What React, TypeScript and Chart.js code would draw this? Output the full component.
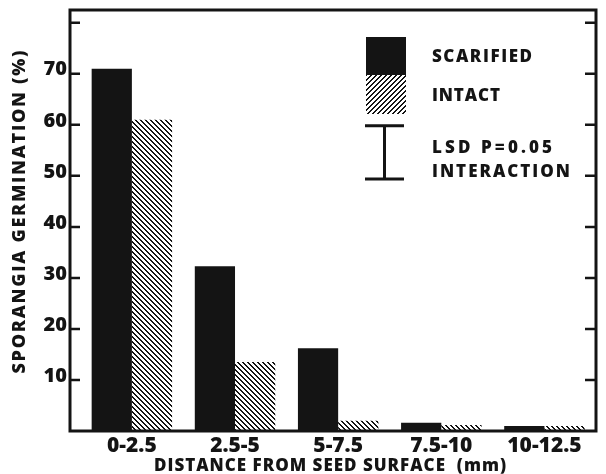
import React, { useEffect, useRef } from 'react';
import { Chart, registerables } from 'chart.js';

Chart.register(...registerables);

const categories = ['0-2.5', '2.5-5', '5-7.5', '7.5-10', '10-12.5'];
const scarified = [71, 32.3, 16.2, 1.6, 1.0];
const intact = [61, 13.5, 2.0, 1.2, 1.0];
const yTicks = [10, 20, 30, 40, 50, 60, 70, 80];
const yTickLabels = ['10', '20', '30', '40', '50', '60', '70', ''];
const seriesNames = ['SCARIFIED', 'INTACT'];
const lsdLabels = ['LSD P=0.05', 'INTERACTION'];
const lsdTop = 59.8;
const lsdValue = 10.4;
const xTitle = 'DISTANCE FROM SEED SURFACE  (mm)';
const yTitle = 'SPORANGIA GERMINATION (%)';

const FONT = '"Open Sans", "DejaVu Sans", sans-serif';
const WEIGHT = '800';
const INK = '#141414';

function makeHatch(ctx: CanvasRenderingContext2D, dir: 1 | -1): CanvasPattern {
  const s = 5;
  const c = document.createElement('canvas');
  c.width = s;
  c.height = s;
  const g = c.getContext('2d')!;
  g.fillStyle = '#ffffff';
  g.fillRect(0, 0, s, s);
  g.fillStyle = INK;
  for (let y = 0; y < s; y++) {
    for (let x = 0; x < s; x++) {
      const raw = dir === 1 ? x - y : x + y;
      const k = ((raw % s) + s) % s;
      if (k < 2) g.fillRect(x, y, 1, 1);
    }
  }
  return ctx.createPattern(c, 'repeat')!;
}

function fitText(
  ctx: CanvasRenderingContext2D,
  text: string,
  x: number,
  y: number,
  width: number,
  size: number,
  align: 'left' | 'center'
) {
  ctx.save();
  ctx.font = `${WEIGHT} ${size}px ${FONT}`;
  (ctx as any).letterSpacing = '0px';
  const w = ctx.measureText(text).width;
  const n = text.length;
  const sp = n > 1 ? (width - w) / (n - 1) : 0;
  (ctx as any).letterSpacing = `${sp}px`;
  ctx.textBaseline = 'middle';
  ctx.textAlign = 'left';
  ctx.fillStyle = INK;
  const sx = align === 'center' ? x - width / 2 : x;
  ctx.fillText(text, sx, y);
  (ctx as any).letterSpacing = '0px';
  ctx.restore();
}

export default function App() {
  const ref = useRef<HTMLCanvasElement | null>(null);

  useEffect(() => {
    const canvas = ref.current;
    if (!canvas) return;
    const ctx0 = canvas.getContext('2d')!;
    const barHatch = makeHatch(ctx0, 1);
    const legendHatch = makeHatch(ctx0, -1);

    const decor = {
      id: 'decor',
      afterDraw(chart: any) {
        const { ctx, chartArea } = chart;
        const ys = chart.scales.y;
        const { left, right, top, bottom } = chartArea;
        ctx.save();
        ctx.strokeStyle = INK;
        ctx.lineWidth = 3;
        ctx.lineCap = 'butt';
        ctx.strokeRect(left, top, right - left, bottom - top);
        ctx.lineWidth = 2.5;
        yTicks.forEach((v) => {
          const py = ys.getPixelForValue(v);
          ctx.beginPath();
          ctx.moveTo(left, py);
          ctx.lineTo(left + 10, py);
          ctx.moveTo(right, py);
          ctx.lineTo(right - 11, py);
          ctx.stroke();
        });

        ctx.fillStyle = INK;
        ctx.fillRect(366, 37, 40, 38);
        ctx.fillStyle = legendHatch;
        ctx.fillRect(366, 75, 40, 39);

        const t = ys.getPixelForValue(lsdTop);
        const b = ys.getPixelForValue(lsdTop - lsdValue);
        ctx.strokeStyle = INK;
        ctx.lineWidth = 3;
        ctx.beginPath();
        ctx.moveTo(365, t);
        ctx.lineTo(404, t);
        ctx.moveTo(384.5, t);
        ctx.lineTo(384.5, b);
        ctx.moveTo(365, b);
        ctx.lineTo(404, b);
        ctx.stroke();
        ctx.restore();

        fitText(ctx, seriesNames[0], 432, 57, 100, 17, 'left');
        fitText(ctx, seriesNames[1], 432, 96, 68, 17, 'left');
        fitText(ctx, lsdLabels[0], 432, 148, 120, 17, 'left');
        fitText(ctx, lsdLabels[1], 432, 172, 138, 17, 'left');

        fitText(ctx, xTitle, 330, 466, 352, 17, 'center');

        ctx.save();
        ctx.translate(20, 212);
        ctx.rotate(-Math.PI / 2);
        fitText(ctx, yTitle, 0, 0, 323, 18, 'center');
        ctx.restore();
      },
    };

    const chart = new Chart(canvas, {
      type: 'bar',
      data: {
        datasets: [
          {
            label: seriesNames[0],
            data: scarified.map((v, i) => ({ x: i, y: v })),
            backgroundColor: INK,
            borderWidth: 0,
            categoryPercentage: 0.78,
            barPercentage: 1,
          } as any,
          {
            label: seriesNames[1],
            data: intact.map((v, i) => ({ x: i, y: v })),
            backgroundColor: barHatch,
            borderWidth: 0,
            categoryPercentage: 0.78,
            barPercentage: 1,
          } as any,
        ],
      },
      options: {
        animation: false,
        responsive: false,
        devicePixelRatio: 1,
        layout: { padding: { left: 8, top: 10, right: 10, bottom: 0 } },
        plugins: { legend: { display: false }, tooltip: { enabled: false } },
        scales: {
          x: {
            type: 'linear',
            offset: false,
            min: -0.6,
            max: 4.5,
            afterBuildTicks: (s: any) => {
              s.ticks = categories.map((_, i) => ({ value: i }));
            },
            afterFit: (s: any) => {
              s.height = 43;
              s.paddingLeft = 0;
              s.paddingRight = 0;
            },
            ticks: {
              callback: (v: any) => categories[v as number] ?? '',
              autoSkip: false,
              maxRotation: 0,
              padding: 2,
              color: INK,
              font: { family: FONT, size: 21, weight: WEIGHT },
            },
            grid: { display: false, drawTicks: false, offset: false },
            border: { display: false },
          } as any,
          y: {
            min: 0,
            max: 82.5,
            afterBuildTicks: (s: any) => {
              s.ticks = yTicks.map((v) => ({ value: v }));
            },
            afterFit: (s: any) => {
              s.width = 62;
              s.paddingTop = 0;
              s.paddingBottom = 0;
            },
            ticks: {
              callback: (_v: any, i: number) => yTickLabels[i] ?? '',
              padding: 3,
              labelOffset: -4,
              color: INK,
              font: { family: FONT, size: 20, weight: WEIGHT },
            },
            grid: { display: false, drawTicks: false },
            border: { display: false },
          } as any,
        },
      },
      plugins: [decor],
    });

    return () => chart.destroy();
  }, []);

  return (
    <div style={{ position: 'absolute', left: 0, top: 0, width: 606, height: 474, background: '#fff' }}>
      <canvas ref={ref} width={606} height={474} style={{ display: 'block', width: 606, height: 474 }} />
    </div>
  );
}
